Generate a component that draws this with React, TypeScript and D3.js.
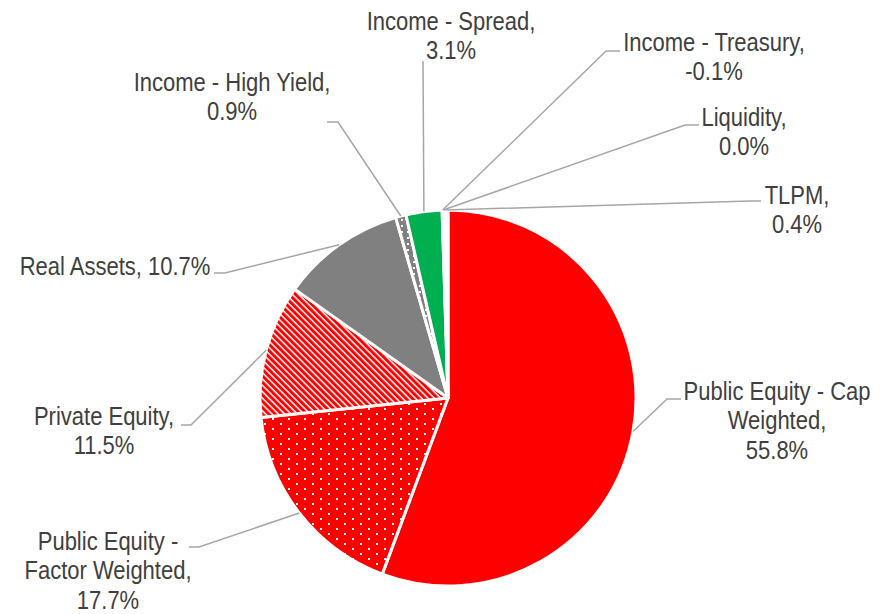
import React from "react";
import * as d3 from "d3";

const categories = [
  "Public Equity - Cap Weighted",
  "Public Equity - Factor Weighted",
  "Private Equity",
  "Real Assets",
  "Income - High Yield",
  "Income - Spread",
  "Income - Treasury",
  "Liquidity",
  "TLPM",
];
const values = [55.8, 17.7, 11.5, 10.7, 0.9, 3.1, -0.1, 0.0, 0.4];
const labelLines = [
  ["Public Equity - Cap", "Weighted,", "55.8%"],
  ["Public Equity -", "Factor Weighted,", "17.7%"],
  ["Private Equity,", "11.5%"],
  ["Real Assets, 10.7%"],
  ["Income - High Yield,", "0.9%"],
  ["Income - Spread,", "3.1%"],
  ["Income - Treasury,", "-0.1%"],
  ["Liquidity,", "0.0%"],
  ["TLPM,", "0.4%"],
];

// styling / layout (not data)
const fills = [
  "#FF0000",
  "url(#dots)",
  "url(#stripes)",
  "#808080",
  "url(#hy)",
  "#00B050",
  "#FFFFFF",
  "#FFFFFF",
  "#FFFFFF",
];
// x: text center, y: first baseline, ax/ay: leader start near text, ex: elbow x
const layout = [
  { x: 777, y: 400, ax: 681, ay: 399, ex: 667 },
  { x: 108, y: 550, ax: 189, ay: 547, ex: 199 },
  { x: 104, y: 425, ax: 181, ay: 425, ex: 191 },
  { x: 115, y: 275, ax: 214, ay: 273, ex: 225 },
  { x: 232, y: 91, ax: 327, ay: 122, ex: 338 },
  { x: 451, y: 30, ax: 422, ay: 62, ex: 423 },
  { x: 714, y: 51, ax: 620, ay: 51, ex: 606 },
  { x: 744, y: 126, ax: 699, ay: 125, ex: 685 },
  { x: 797, y: 204, ax: 761, ay: 201, ex: 750 },
];

const W = 880;
const H = 614;
const CX = 448;
const CY = 398;
const R = 188;
const LINE_H = 29.5;
const NARROW = 0.88;

export default function App() {
  const pie = d3
    .pie<number>()
    .sort(null)
    .value((d) => Math.abs(d))
    .startAngle(0)
    .endAngle(2 * Math.PI);
  const arcs = pie(values);
  const arc = d3.arc<d3.PieArcDatum<number>>().innerRadius(0).outerRadius(R);
  const edge = d3.arc<d3.PieArcDatum<number>>().innerRadius(R).outerRadius(R);
  const line = d3.line();

  return (
    <svg
      width={W}
      height={H}
      style={{ position: "absolute", left: 0, top: 0, background: "#fff" }}
      fontFamily="'Liberation Sans', Arial, sans-serif"
    >
      <defs>
        <pattern id="dots" width={16} height={10} patternUnits="userSpaceOnUse">
          <rect width={16} height={10} fill="#FF0000" />
          <rect x={0} y={0} width={2} height={2} fill="#fff" />
          <rect x={8} y={5} width={2} height={2} fill="#fff" />
        </pattern>
        <pattern
          id="stripes"
          width={4.5}
          height={10}
          patternUnits="userSpaceOnUse"
          patternTransform="rotate(-45)"
        >
          <rect width={4.5} height={10} fill="#fff" />
          <rect width={3} height={10} fill="#FF0000" />
        </pattern>
        <pattern id="hy" width={6} height={6} patternUnits="userSpaceOnUse">
          <rect width={6} height={6} fill="#808080" />
          <rect x={1} y={1} width={2} height={2} fill="#fff" />
        </pattern>
      </defs>
      <g transform={`translate(${CX},${CY})`}>
        {arcs.map((a, i) => (
          <path
            key={categories[i]}
            d={arc(a) || ""}
            fill={fills[i]}
            stroke="#fff"
            strokeWidth={3}
            strokeLinejoin="round"
          />
        ))}
      </g>
      {arcs.map((a, i) => {
        const [px, py] = edge.centroid(a);
        const L = layout[i];
        const d = line([
          [L.ax, L.ay],
          [L.ex, L.ay],
          [CX + px, CY + py],
        ]);
        return (
          <path
            key={"l" + i}
            d={d || ""}
            fill="none"
            stroke="#A6A6A6"
            strokeWidth={1.5}
          />
        );
      })}
      {labelLines.map((lines, i) => (
        <text
          key={"t" + i}
          transform={`translate(${layout[i].x},${layout[i].y}) scale(${NARROW},1)`}
          textAnchor="middle"
          fontSize={25}
          fill="#404040"
        >
          {lines.map((s, j) => (
            <tspan key={j} x={0} y={j * LINE_H}>
              {s}
            </tspan>
          ))}
        </text>
      ))}
    </svg>
  );
}
